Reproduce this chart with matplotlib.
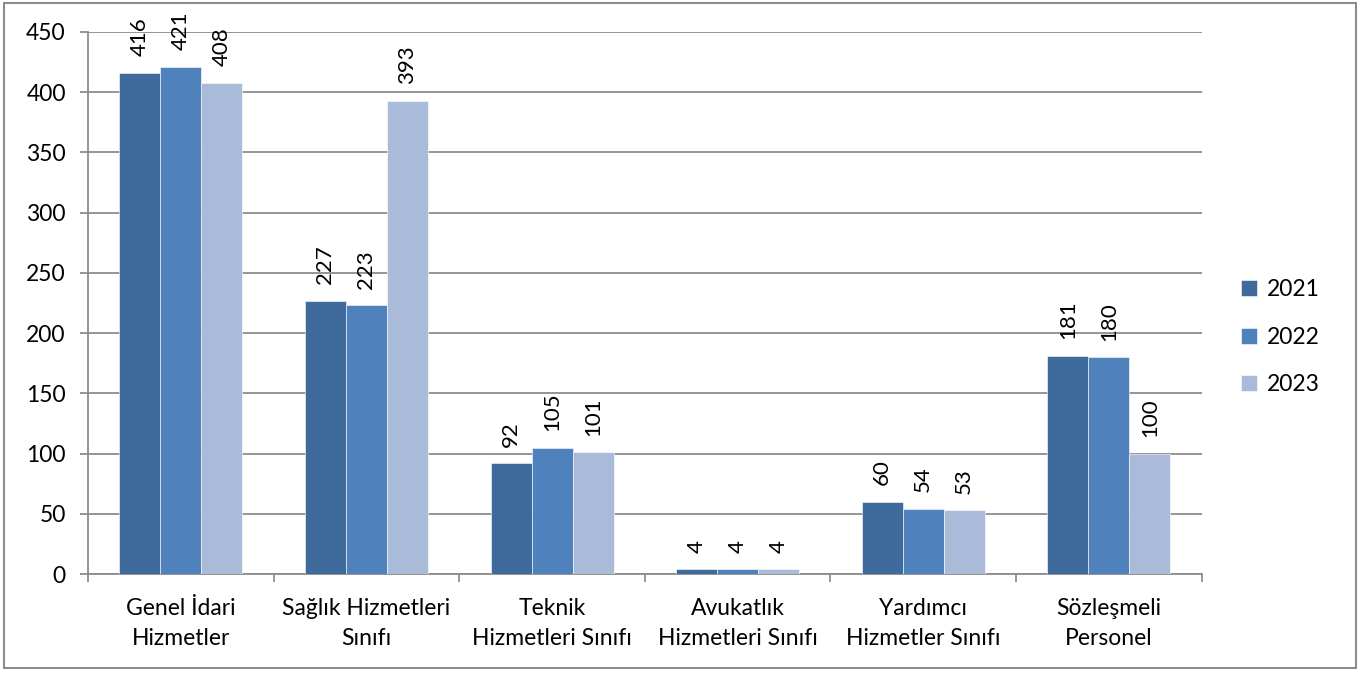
import matplotlib
matplotlib.use("Agg")
import matplotlib.pyplot as plt
from matplotlib.patches import Rectangle
import numpy as np

categories = [
    "Genel İdari\nHizmetler",
    "Sağlık Hizmetleri\nSınıfı",
    "Teknik\nHizmetleri Sınıfı",
    "Avukatlık\nHizmetleri Sınıfı",
    "Yardımcı\nHizmetler Sınıfı",
    "Sözleşmeli\nPersonel",
]
series_names = ["2021", "2022", "2023"]
values_2021 = [416, 227, 92, 4, 60, 181]
values_2022 = [421, 223, 105, 4, 54, 180]
values_2023 = [408, 393, 101, 4, 53, 100]
colors = ["#3F6A9C", "#4F81BD", "#AABBD9"]
y_ticks = [0, 50, 100, 150, 200, 250, 300, 350, 400, 450]

plt.rcParams["font.family"] = ["Lato", "DejaVu Sans"]

fig = plt.figure(figsize=(13.63, 6.75), dpi=100)
ax = fig.add_axes([0.0646, 0.1496, 0.8170, 0.8030])

x = np.arange(len(categories))
width = 0.221
all_values = [values_2021, values_2022, values_2023]
for i, (name, vals, col) in enumerate(zip(series_names, all_values, colors)):
    pos = x + (i - 1) * width
    ax.bar(pos, vals, width, color=col, label=name, zorder=3,
           edgecolor="white", linewidth=0.4)
    for px, v in zip(pos, vals):
        ax.annotate(str(v), (px, v), xytext=(0, 12), textcoords="offset points",
                    rotation=90, ha="center", va="bottom", fontsize=16)

ax.set_xlim(-0.5, len(categories) - 0.5)
ax.set_ylim(0, 450)
ax.set_yticks(y_ticks)
ax.yaxis.grid(True, color="#8C8C8C", linewidth=1.3, zorder=0)
ax.set_axisbelow(True)

ax.set_xticks(x)
ax.set_xticklabels(categories, fontsize=16.5, linespacing=1.55)
ax.set_xticks(np.arange(len(categories) + 1) - 0.5, minor=True)
ax.tick_params(axis="x", which="major", length=0, pad=17)
ax.tick_params(axis="x", which="minor", length=6, color="#8C8C8C", width=1.3)
ax.tick_params(axis="y", length=6, color="#8C8C8C", width=1.3, labelsize=16.5, pad=10)

for side in ["top", "right"]:
    ax.spines[side].set_visible(False)
for side in ["left", "bottom"]:
    ax.spines[side].set_color("#8C8C8C")
    ax.spines[side].set_linewidth(1.3)

ax.legend(loc="center left", bbox_to_anchor=(1.017, 0.437), frameon=False,
          fontsize=16.5, handlelength=0.7, handleheight=0.7, handletextpad=0.4,
          labelspacing=1.15)

fig.patches.append(Rectangle((0.003, 0.01), 0.992, 0.985, transform=fig.transFigure,
                             fill=False, edgecolor="#8C8C8C", linewidth=1.5))

fig.savefig("out.png", dpi=100)
